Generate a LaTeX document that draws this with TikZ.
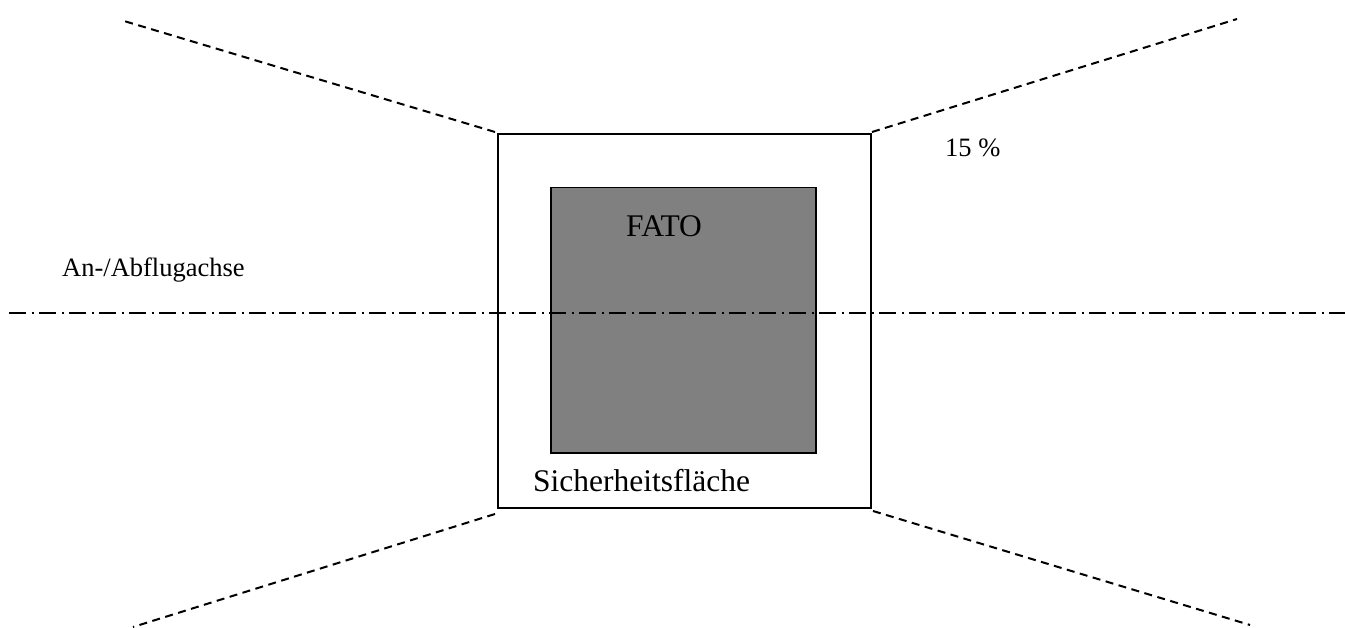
\documentclass[tikz,border=0pt]{standalone}
\usepackage{fontspec}
\setmainfont{Liberation Serif}
\begin{document}
\begin{tikzpicture}[x=1pt,y=-1pt,
  frame/.style={draw=black,line width=2pt},
  fato/.style={draw=black,fill=fatogray,line width=1.5pt},
  slope/.style={draw=black,line width=2pt,dash pattern=on 8pt off 5.5pt},
  axis/.style={draw=black,line width=2pt,dash pattern=on 17pt off 5.5pt on 2pt off 5.5pt},
  big/.style={inner sep=0pt,font=\fontsize{31.5}{36}\selectfont},
  small/.style={inner sep=0pt,font=\fontsize{26.5}{30}\selectfont}]
\definecolor{fatogray}{HTML}{808080}
\useasboundingbox (0,0) rectangle (1345,628);
% areas
\node[fato,minimum width=265pt,minimum height=265pt,inner sep=0pt,anchor=north west] (fatobox) at (550,187) {};
\node[frame,minimum width=373pt,minimum height=373pt,inner sep=0pt,anchor=north west] (safety) at (496.5,133.5) {};
% free ends of slope lines
\coordinate (tl) at (124,21);
\coordinate (tr) at (1237,19);
\coordinate (bl) at (133,627);
\coordinate (br) at (1250,625);
\coordinate (tlc) at (495,132);
\coordinate (trc) at (872,132);
\coordinate (blc) at (495,514);
\coordinate (brc) at (873,511);
\draw[slope] (tlc) -- (tl);
\draw[slope] (trc) -- (tr);
\draw[slope] (blc) -- (bl);
\draw[slope] (brc) -- (br);
% axis
\coordinate (axl) at (9,313.5);
\coordinate (axr) at (1345,313.5);
\draw[axis] (axl) -- (axr);
% labels
\node[big,anchor=base] (lfato) at (664,236.5) {FATO};
\node[big,anchor=base west] (lsafe) at (533,491.5) {Sicherheitsfläche};
\node[small,anchor=base west] (lslope) at (945,157) {15 \%};
\node[small,anchor=base west] (laxis) at (62,277) {An-/Abflugachse};
\end{tikzpicture}
\end{document}
